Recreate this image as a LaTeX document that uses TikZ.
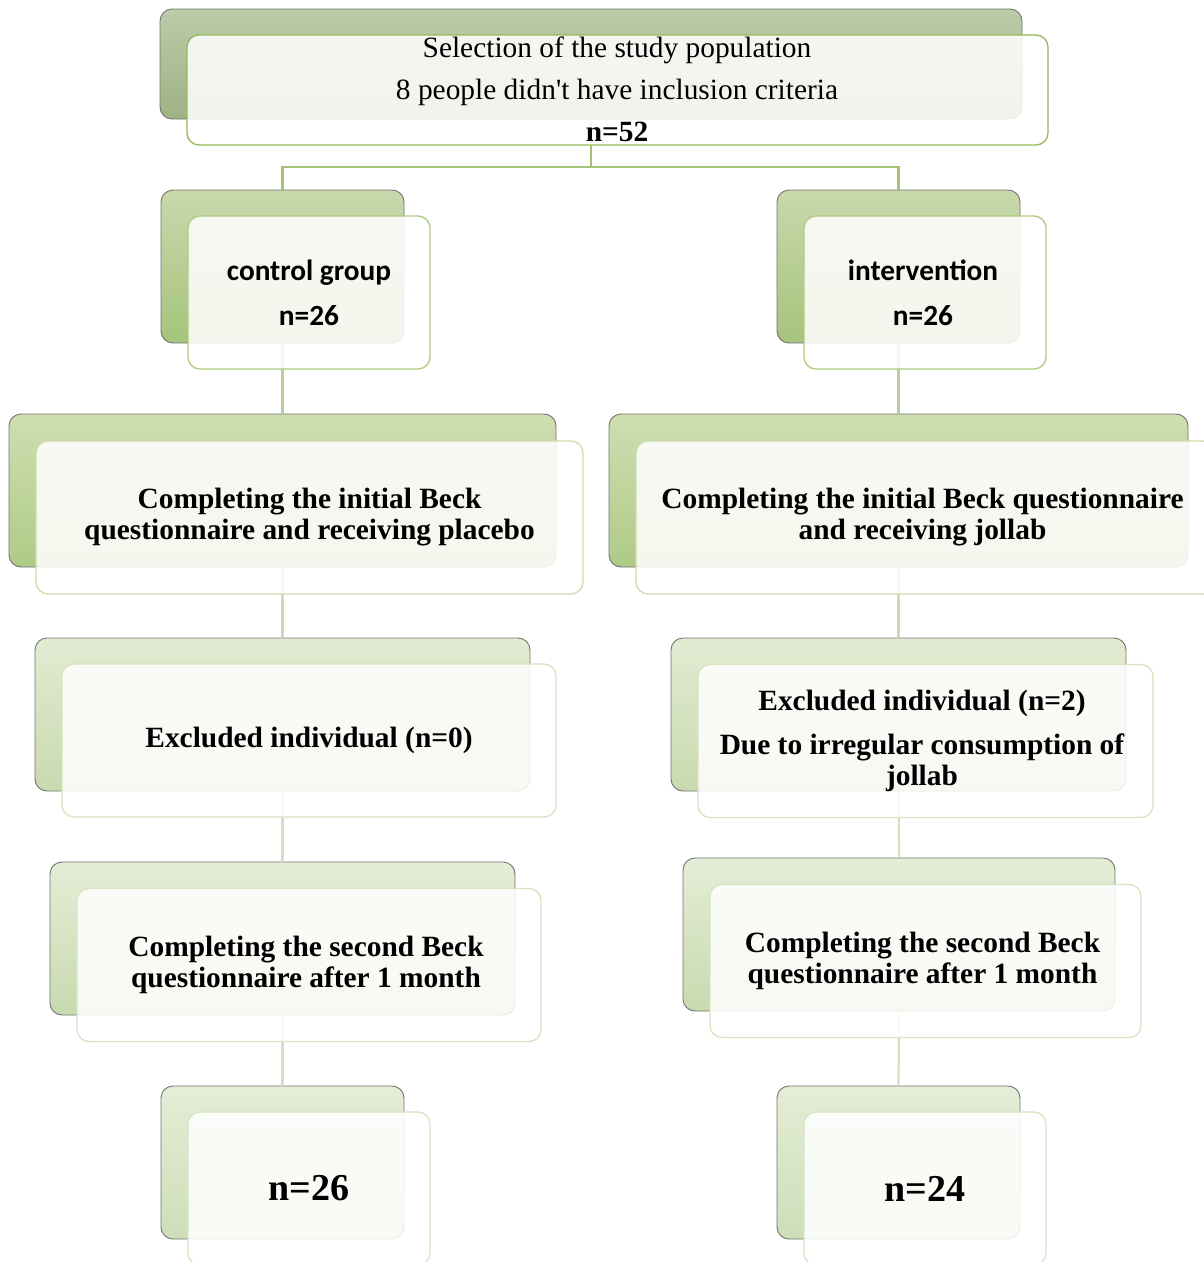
\documentclass[tikz,border=0pt]{standalone}
\usepackage{fontspec}
\setmainfont{Liberation Serif}[Ligatures=TeXOff]
\newfontfamily\calib{Carlito}
\definecolor{bkA0}{RGB}{188,203,168}\definecolor{bkB0}{RGB}{158,178,132}
\definecolor{bkA1}{RGB}{200,216,172}\definecolor{bkB1}{RGB}{166,196,124}
\definecolor{bkA2}{RGB}{206,222,177}\definecolor{bkB2}{RGB}{175,203,135}
\definecolor{bkA3}{RGB}{226,235,210}\definecolor{bkB3}{RGB}{200,218,175}
\definecolor{bkA4}{RGB}{228,237,214}\definecolor{bkB4}{RGB}{205,222,185}
\definecolor{fr0}{RGB}{150,185,90}
\definecolor{fr1}{RGB}{175,205,125}
\definecolor{fr2}{RGB}{205,220,175}
\definecolor{fr3}{RGB}{215,228,195}
\definecolor{ln0}{RGB}{165,195,120}
\definecolor{ln1}{RGB}{185,208,150}
\definecolor{ln2}{RGB}{205,218,180}
\definecolor{ln3}{RGB}{212,224,194}
\tikzset{
  backbox/.style n args={2}{rounded corners=12pt, top color=#1, bottom color=#2, draw=black!55, line width=0.9pt, inner sep=0pt},
  frontbox/.style={rounded corners=12pt, fill=white, fill opacity=0.86, text opacity=1, draw=#1, line width=1.3pt, align=center, inner sep=0pt},
  conn/.style={draw=#1, line width=2.2pt},
  tnr/.style={font=\fontsize{29.4}{42}\selectfont, align=center},
  tnrb/.style={font=\bfseries\fontsize{29.4}{31}\selectfont, align=center},
  calb/.style={font=\calib\bfseries\fontsize{29.3}{45}\selectfont},
  bign/.style={font=\bfseries\fontsize{38}{40}\selectfont},
}
\begin{document}
\begin{tikzpicture}[x=1pt,y=-1pt]
\useasboundingbox[fill=white] (0,0) rectangle (1204,1262);
% back boxes
\node[backbox={bkA0}{bkB0}, minimum width=862pt, minimum height=110pt] (b0) at (591,64) {};
\node[backbox={bkA1}{bkB1}, minimum width=243pt, minimum height=153pt] (b1l) at (282.5,266.5) {};
\node[backbox={bkA1}{bkB1}, minimum width=243pt, minimum height=153pt] (b1r) at (898.5,266.5) {};
\node[backbox={bkA2}{bkB2}, minimum width=547pt, minimum height=153pt] (b2l) at (282.5,490.5) {};
\node[backbox={bkA2}{bkB2}, minimum width=579pt, minimum height=153pt] (b2r) at (898.5,490.5) {};
\node[backbox={bkA3}{bkB3}, minimum width=495pt, minimum height=153pt] (b3l) at (282.5,714.5) {};
\node[backbox={bkA3}{bkB3}, minimum width=455pt, minimum height=153pt] (b3r) at (898.5,714.5) {};
\node[backbox={bkA4}{bkB3}, minimum width=465pt, minimum height=153pt] (b4l) at (282.5,938.5) {};
\node[backbox={bkA4}{bkB3}, minimum width=432pt, minimum height=153pt] (b4r) at (899,934.5) {};
\node[backbox={bkA4}{bkB4}, minimum width=243pt, minimum height=153pt] (b5l) at (282.5,1162.5) {};
\node[backbox={bkA4}{bkB4}, minimum width=243pt, minimum height=153pt] (b5r) at (898.5,1162.5) {};
% connectors
\coordinate (j0) at (591,167);
\draw[conn=ln0] (b0.south) -- (j0) -| (b1l.north);
\draw[conn=ln0] (j0) -| (b1r.north);
\draw[conn=ln1] (b1l.south) -- (b2l.north);
\draw[conn=ln1] (b1r.south) -- (b2r.north);
\draw[conn=ln2] (b2l.south) -- (b3l.north);
\draw[conn=ln2] (b2r.south) -- (b3r.north);
\draw[conn=ln3] (b3l.south) -- (b4l.north);
\draw[conn=ln3] (b3r.south) -- (b4r.north);
\draw[conn=ln3] (b4l.south) -- (b5l.north);
\draw[conn=ln3] (b4r.south) -- (b5r.north);
% front boxes
\node[frontbox=fr0, minimum width=861pt, minimum height=110pt] (f0) at (617.5,90) {};
\node[tnr] (t0) at (617,89) {Selection of the study population\\8 people didn't have inclusion criteria\\\textbf{n=52}};
\node[frontbox=fr1, minimum width=242pt, minimum height=153pt, calb] (f1l) at (309,292.5) {control group\\n=26};
\node[frontbox=fr1, minimum width=242pt, minimum height=153pt, calb] (f1r) at (925,292.5) {};
\node[calb, align=center] (t1r) at (923,292.5) {intervention\\n=26};
\node[frontbox=fr2, minimum width=547pt, minimum height=153pt, tnrb] (f2l) at (309.5,517.5) {Completing the initial Beck\\questionnaire and receiving placebo};
\node[frontbox=fr2, minimum width=579pt, minimum height=153pt] (f2r) at (925.5,517.5) {};
\node[tnrb] (t2r) at (922.5,517.5) {Completing the initial Beck questionnaire\\and receiving jollab};
\node[frontbox=fr3, minimum width=494pt, minimum height=153pt, tnrb] (f3l) at (309,740.5) {Excluded individual (n=0)};
\node[frontbox=fr3, minimum width=455pt, minimum height=153pt] (f3r) at (925.5,741) {};
\node[tnrb] (t3r) at (922,741) {Excluded individual (n=2)\\[13pt]Due to irregular consumption of\\jollab};
\node[frontbox=fr3, minimum width=464pt, minimum height=153pt] (f4l) at (309,965) {};
\node[tnrb] (t4l) at (306,965) {Completing the second Beck\\questionnaire after 1 month};
\node[frontbox=fr3, minimum width=431pt, minimum height=153pt] (f4r) at (925.5,961) {};
\node[tnrb] (t4r) at (922.5,961) {Completing the second Beck\\questionnaire after 1 month};
\node[frontbox=fr3, minimum width=242pt, minimum height=153pt, bign] (f5l) at (309,1188.5) {n=26};
\node[frontbox=fr3, minimum width=242pt, minimum height=153pt, bign] (f5r) at (925,1188.5) {n=24};
\end{tikzpicture}
\end{document}
